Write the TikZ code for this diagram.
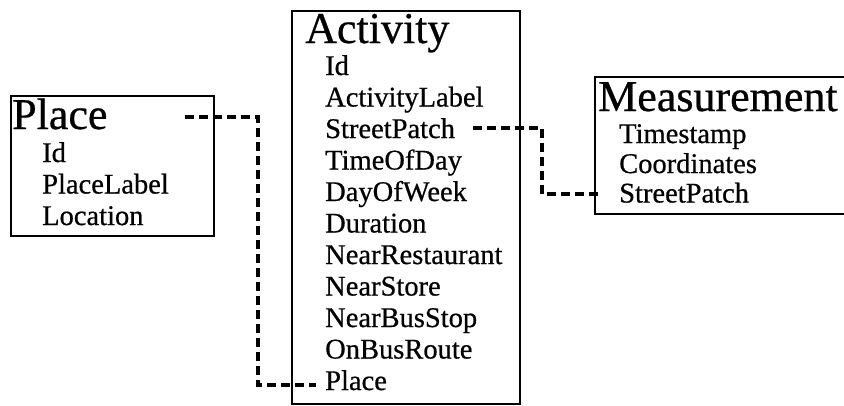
\documentclass[tikz,border=0pt]{standalone}
\usepackage{fontspec}
\setmainfont{Liberation Serif}[FakeBold=0.6]
\begin{document}
\begin{tikzpicture}[x=1pt,y=-1pt,
  box/.style={draw=black,line width=1.8pt,inner sep=0pt,anchor=north west,fill=none},
  ttl/.style={anchor=base west,inner sep=0pt,font=\fontsize{44}{44}\selectfont},
  itm/.style={anchor=base west,inner sep=0pt,font=\fontsize{28.5}{31}\selectfont},
  link/.style={draw=black,line width=4pt,dash pattern=on 9pt off 5pt}]
\useasboundingbox (0,0) rectangle (844,405);
% boxes
\node[box,minimum width=203pt,minimum height=140pt] (placebox) at (10,95) {};
\node[box,minimum width=228pt,minimum height=393pt] (actbox) at (291,10) {};
\begin{scope}
\clip (0,0) rectangle (844,405);
\node[box,minimum width=262pt,minimum height=137pt] (measbox) at (594,76) {};
\end{scope}
% Place
\node[ttl] (pT) at (12,129) {Place};
\node[itm] (pId) at (42,162) {Id};
\node[itm] (pLabel) at (42,193.5) {PlaceLabel};
\node[itm] (pLoc) at (42,225) {Location};
% Activity
\node[ttl] (aT) at (305,43) {Activity};
\foreach \t [count=\i from 0] in {Id,ActivityLabel,StreetPatch,TimeOfDay,DayOfWeek,Duration,NearRestaurant,NearStore,NearBusStop,OnBusRoute,Place}
  \node[itm] (a\i) at (325,{75+\i*31.5}) {\t};
% Measurement
\node[ttl] (mT) at (598,111) {Measurement};
\node[itm] (mTime) at (619,143) {Timestamp};
\node[itm] (mCoord) at (619,173) {Coordinates};
\node[itm] (mStreet) at (619,202.5) {StreetPatch};
% connectors
\coordinate (l1a) at (185,117);
\coordinate (l1b) at (316,385);
\draw[link] (l1a) -| (258,250) |- (l1b);
\coordinate (l2a) at (473,128);
\coordinate (l2b) at (598,194);
\draw[link] (l2a) -| (542,160) |- (l2b);
\end{tikzpicture}
\end{document}
